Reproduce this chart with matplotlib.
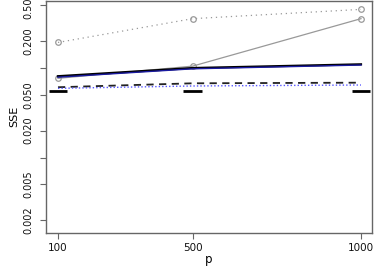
import numpy as np
import matplotlib
matplotlib.use("Agg")
import matplotlib.pyplot as plt

plt.rcParams['font.family'] = ['DejaVu Sans']

# sample sizes
p = [100, 500, 1000]

# SSE curves
gray_dotted = [0.193, 0.356, 0.452]
gray_solid = [0.0767, 0.105, 0.356]
black_solid = [0.081, 0.100, 0.110]
blue_solid = [0.079, 0.098, 0.108]
black_dashed = [0.061, 0.0675, 0.0686]
blue_dotted = [0.0593, 0.0630, 0.0646]
# reference levels (short horizontal bars)
ref_level = [0.0558, 0.0552, 0.0558]

yticks = [0.002, 0.005, 0.01, 0.02, 0.05, 0.1, 0.2, 0.5]
ytick_labels = ['0.002', '0.005', '', '0.020', '0.050', '', '0.200', '0.500']

fig = plt.figure(figsize=(3.74, 2.66), dpi=100)
ax = fig.add_axes([46 / 374, 1 - 233 / 266, 326 / 374, 232.5 / 266])

ax.plot(p, gray_dotted, color='#999999', lw=0.9, ls=(0, (1, 3)),
        marker='o', ms=4, mfc='none', mec='#999999', mew=0.9)
ax.plot(p, gray_solid, color='#999999', lw=0.9,
        marker='o', ms=4, mfc='none', mec='#999999', mew=0.9)
ax.plot(p, black_solid, color='black', lw=1.6)
ax.plot(p, blue_solid, color='#1a1aa0', lw=1.0)
ax.plot(p, black_dashed, color='#222222', lw=1.3, ls=(0, (4, 3)))
ax.plot(p, blue_dotted, color='#5555ff', lw=1.0, ls=(0, (1, 1.5)))

half = 28
ax.hlines(ref_level, [v - half for v in p], [v + half for v in p],
          color='black', lw=2.0)

ax.set_yscale('log')
ax.set_xlim(64.4, 1032.7)
ax.set_ylim(0.001435, 0.568)
ax.set_xticks(p)
ax.set_xticklabels([str(v) for v in p], fontsize=7.5)
ax.set_yticks(yticks)
ax.set_yticklabels(ytick_labels, rotation=90, va='center', fontsize=7)
ax.yaxis.set_minor_locator(matplotlib.ticker.NullLocator())

for s in ax.spines.values():
    s.set_color('#666666')
    s.set_linewidth(1.0)
ax.tick_params(axis='both', colors='#666666', labelcolor='#111111',
               length=4, width=0.8)
ax.tick_params(axis='y', pad=5)
ax.tick_params(axis='x', pad=3)

ax.set_xlabel('p', fontsize=8.5, labelpad=0.5)
ax.set_ylabel('SSE', fontsize=8, labelpad=3)

fig.savefig('out.png', dpi=100)
